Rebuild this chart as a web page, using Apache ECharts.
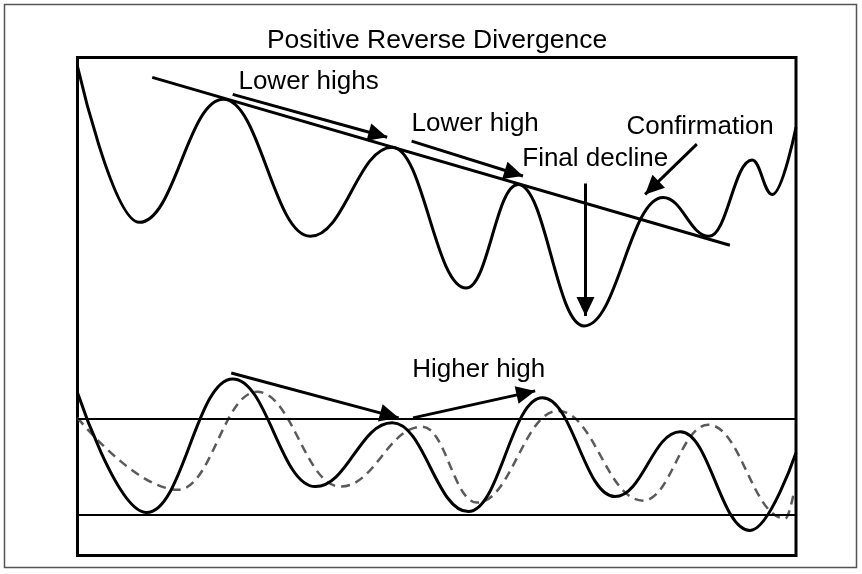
<!DOCTYPE html>
<html>
<head>
<meta charset="utf-8">
<script src="https://cdn.jsdelivr.net/npm/echarts@6/dist/echarts.min.js"></script>
<style>
html,body{margin:0;padding:0;background:#fff;}
#c{width:862px;height:574px;}
</style>
</head>
<body>
<div id="c"></div>
<script>
// ---- Price (upper panel) ----
const priceX = [0, 8.6, 20.3, 32.4, 43.8, 54.1, 61.3, 70.5, 81.5, 87.9, 93.9, 96.7, 100];
const priceY = [98.2, 66.9, 91.6, 64.1, 82.0, 53.7, 74.5, 46.1, 71.9, 64.1, 79.4, 72.5, 86.0];

// Down-trend line touching the highs
const trendX = [10.4, 90.8];
const trendY = [96.0, 62.3];

// ---- Oscillator (lower panel) ----
const oscX = [0, 9.6, 21.6, 33.1, 43.8, 54.4, 64.7, 74.8, 83.9, 93.6, 100];
const oscY = [95.8, 21.6, 104.4, 37.7, 77.2, 22.2, 92.7, 31.5, 71.7, 10.5, 58.7];

const signalX = [0, 14.0, 25.0, 36.6, 48.0, 55.6, 66.9, 78.7, 87.8, 98.5, 99.7];
const signalY = [80.3, 35.8, 96.4, 37.7, 74.8, 27.8, 84.6, 29.0, 76.0, 17.9, 34.0];

const levels = [80, 20];

// ---- Annotation arrows (from -> to, in data units) ----
const priceArrowFrom = [[21.6, 92.6], [46.5, 83.2], [70.7, 74.7], [86.2, 82.6]];
const priceArrowTo   = [[43.1, 84.0], [62.0, 76.2], [70.7, 48.1], [79.0, 72.5]];
const oscArrowFrom = [[21.4, 108.1], [46.7, 80.3]];
const oscArrowTo   = [[44.7, 80.3], [63.7, 97.0]];

// ---- Annotation texts ----
const priceNoteText = ['Lower highs', 'Lower high', 'Final decline', 'Confirmation'];
const priceNoteX = [22.4, 46.5, 61.9, 76.4];
const priceNoteY = [95.2, 86.6, 79.7, 86.0];
const oscNoteText = ['Higher high'];
const oscNoteX = [46.6];
const oscNoteY = [110.0];

const titleText = 'Positive Reverse Divergence';

const FONT = "'Liberation Sans', Arial, Helvetica, sans-serif";

const zip = (xs, ys) => xs.map((x, i) => [x, ys[i]]);

const HEAD_W = 18, HEAD_L = 19;
const arrowMarkLine = (from, to) => ({
  silent: true,
  animation: false,
  symbol: 'none',
  label: { show: false },
  emphasis: { disabled: true },
  lineStyle: { color: '#000', width: 3, type: 'solid' },
  data: from.map((f, i) => [
    { coord: f, symbol: 'none' },
    { coord: to[i], symbol: 'triangle', symbolSize: [HEAD_W, HEAD_L], symbolOffset: [0, HEAD_L / 2],
      itemStyle: { color: '#000' } }
  ])
});

const noteMarkPoint = (txt, xs, ys) => ({
  silent: true,
  animation: false,
  symbol: 'circle',
  symbolSize: 0,
  itemStyle: { color: 'transparent' },
  label: {
    show: true,
    position: 'right',
    distance: 0,
    formatter: '{b}',
    color: '#000',
    fontSize: 26,
    fontFamily: FONT
  },
  data: txt.map((t, i) => ({ name: t, coord: [xs[i], ys[i]] }))
});

const chart = echarts.init(document.getElementById('c'), null, { renderer: 'canvas' });

const gridPos = { left: 77.5, right: 66, top: 57.5, bottom: 18.5 };

chart.setOption({
  animation: false,
  backgroundColor: '#fff',
  title: {
    text: titleText,
    left: 437,
    top: 27,
    padding: 0,
    textAlign: 'center',
    textStyle: { fontSize: 26.5, fontWeight: 'normal', color: '#000', fontFamily: FONT }
  },
  graphic: [{
    type: 'rect',
    silent: true,
    shape: { x: 4.5, y: 4.5, width: 852, height: 563 },
    style: { fill: 'none', stroke: '#555', lineWidth: 1.5 }
  }],
  grid: [
    Object.assign({ show: true, borderColor: '#000', borderWidth: 3, backgroundColor: 'transparent' }, gridPos),
    Object.assign({ show: false }, gridPos)
  ],
  xAxis: [
    { type: 'value', gridIndex: 0, min: 0, max: 100, show: false },
    { type: 'value', gridIndex: 1, min: 0, max: 100, show: false }
  ],
  yAxis: [
    { type: 'value', gridIndex: 0, min: 0, max: 100, show: false },
    { type: 'value', gridIndex: 1, min: -5, max: 303.6, show: false }
  ],
  series: [
    {
      name: 'Price',
      type: 'line',
      xAxisIndex: 0, yAxisIndex: 0,
      data: zip(priceX, priceY),
      smooth: 0.42,
      smoothMonotone: 'x',
      showSymbol: false,
      lineStyle: { color: '#000', width: 3 },
      markLine: arrowMarkLine(priceArrowFrom, priceArrowTo),
      markPoint: noteMarkPoint(priceNoteText, priceNoteX, priceNoteY)
    },
    {
      name: 'Trend',
      type: 'line',
      xAxisIndex: 0, yAxisIndex: 0,
      data: zip(trendX, trendY),
      showSymbol: false,
      lineStyle: { color: '#000', width: 3 }
    },
    {
      name: 'Signal',
      type: 'line',
      xAxisIndex: 1, yAxisIndex: 1,
      data: zip(signalX, signalY),
      smooth: 0.42,
      smoothMonotone: 'x',
      showSymbol: false,
      lineStyle: { color: '#5a5a5a', width: 2.5, type: [9, 6] },
      markLine: {
        silent: true,
        animation: false,
        symbol: ['none', 'none'],
        label: { show: false },
        emphasis: { disabled: true },
        lineStyle: { color: '#000', width: 2, type: 'solid' },
        data: levels.map(v => ({ yAxis: v }))
      }
    },
    {
      name: 'Oscillator',
      type: 'line',
      xAxisIndex: 1, yAxisIndex: 1,
      data: zip(oscX, oscY),
      smooth: 0.42,
      smoothMonotone: 'x',
      showSymbol: false,
      lineStyle: { color: '#000', width: 3 },
      markLine: arrowMarkLine(oscArrowFrom, oscArrowTo),
      markPoint: noteMarkPoint(oscNoteText, oscNoteX, oscNoteY)
    }
  ]
});
</script>
</body>
</html>
